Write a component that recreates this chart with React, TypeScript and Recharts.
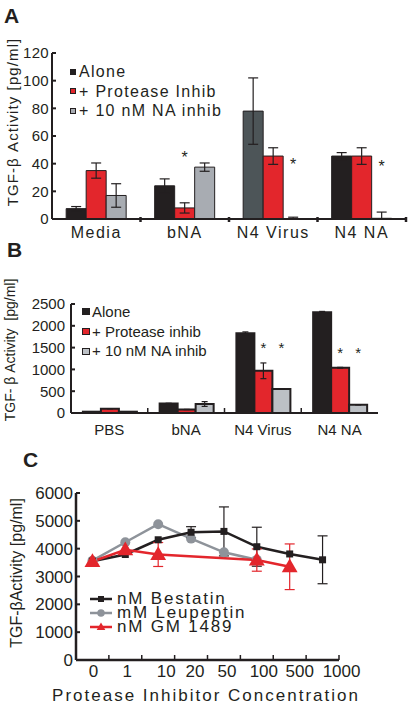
import React from 'react';
import { BarChart, Bar, LineChart, Line, XAxis, YAxis, ErrorBar, Cell, LabelList, Legend } from 'recharts';

const FONT = '"Liberation Sans", Arial, Helvetica, sans-serif';
const INK = '#231f20';
const RED = '#e3262c';
const GRAY_A = '#a8acb2';
const GRAY_B = '#bcc0c5';
const DARK = '#4d5558';
const LINE_GRAY = '#8e939a';

// ---- panel A ----
const catsA = ['Media', 'bNA', 'N4 Virus', 'N4 NA'];
const aloneA = [7.5, 24, 78, 45.5];
const aloneErrA = [1.5, 5, 24, 2.5];
const proteaseA = [35, 8, 45.5, 45.5];
const proteaseErrA = [5.5, 3.7, 6, 6];
const naInhibA = [17, 37.5, 0.3, 0.5];
const naInhibErrA = [8.5, 3, 1, 4.5];
const starProteaseA = [null, 40.7, null, null];
const starNaA = [null, null, 35.7, 34.3];
const ticksA = [0, 20, 40, 60, 80, 100, 120];
const aloneFillA = [INK, INK, DARK, INK];

// ---- panel B ----
const catsB = ['PBS', 'bNA', 'N4 Virus', 'N4 NA'];
const aloneB = [30, 220, 1830, 2310];
const aloneErrB = [0, 0, 30, 20];
const proteaseB = [100, 80, 968, 1037];
const proteaseErrB = [0, 0, 180, 10];
const naInhibB = [30, 206, 549, 190];
const naInhibErrB = [0, 55, 0, 0];
const starProteaseB = [null, null, 1380, 1265];
const starNaB = [null, null, 1380, 1265];
const ticksB = [0, 500, 1000, 1500, 2000, 2500];

// ---- panel C ----
const concLabels = ['0', '1', '10', '20', '50', '100', '500', '1000'];
const bestatin = [3550, 3790, 4320, 4590, 4620, 4070, 3810, 3600];
const bestatinErr = [0, 0, 0, 200, 880, 700, 0, 860];
const leupeptin = [3570, 4230, 4880, 4360, 3870, 3600, null, null];
const gm1489 = [3540, 3960, 3790, null, null, 3590, 3350, null];
const gm1489Err = [0, 0, 430, 0, 0, 400, 820, 0];
const ticksC = [0, 1000, 2000, 3000, 4000, 5000, 6000];
// the concentration labels drift to the right of their points in the original
const concLabelNudge = [1, 2, 8, 4, 3, 7, 10, 19];

const clipErr = (v: number, e: number) => [Math.min(v, e), e];

function barRows(cats: string[], alone: number[], aloneErr: number[], prot: number[], protErr: number[],
  na: number[], naErr: number[], starP: (number | null)[], starN: (number | null)[]) {
  return cats.map((cat, i) => ({
    cat,
    alone: alone[i], aloneErr: clipErr(alone[i], aloneErr[i]),
    protease: prot[i], proteaseErr: clipErr(prot[i], protErr[i]),
    na: na[i], naErr: clipErr(na[i], naErr[i]),
    padP: starP[i] == null ? 0 : (starP[i] as number) - prot[i],
    padN: starN[i] == null ? 0 : (starN[i] as number) - na[i],
    starP: starP[i] == null ? '' : '*',
    starN: starN[i] == null ? '' : '*',
  }));
}

const rowsA = barRows(catsA, aloneA, aloneErrA, proteaseA, proteaseErrA, naInhibA, naInhibErrA, starProteaseA, starNaA);
const rowsB = barRows(catsB, aloneB, aloneErrB, proteaseB, proteaseErrB, naInhibB, naInhibErrB, starProteaseB, starNaB);
const rowsC = concLabels.map((c, i) => ({
  i, bestatin: bestatin[i], bestatinErr: bestatinErr[i], leupeptin: leupeptin[i],
  gm: gm1489[i], gmErr: gm1489Err[i],
}));

// layout
const W = 411;
const A_LEFT = 52, A_RIGHT = 5;
const B_LEFT = 71, B_RIGHT = 33;
const C_LEFT = 76, C_RIGHT = 72;
const bandA = (W - A_LEFT - A_RIGHT) / catsA.length;
const bandB = (W - B_LEFT - B_RIGHT) / catsB.length;
const stepC = (W - C_LEFT - C_RIGHT) / concLabels.length;

function ValTick(props: any) {
  const { x, y, payload, gap, fontSize, spacing } = props;
  const ax = x + gap;
  return (
    <g>
      <line x1={ax} x2={ax + 4} y1={y} y2={y} stroke={INK} strokeWidth={2} />
      <text x={x} y={y} dy="0.36em" textAnchor="end" fontSize={fontSize} letterSpacing={spacing}
        fontFamily={FONT} fill={INK}>{payload.value}</text>
    </g>
  );
}

function CatTick(props: any) {
  const { x, y, payload, index, band, fontSize, spacing, dy, up, lastMark, labels, nudge } = props;
  const bx = x + band / 2;
  const n = labels ? labels.length : 4;
  const showMark = lastMark || index < n - 1;
  const text = labels ? labels[payload.value] : payload.value;
  const dx = nudge ? nudge[index] ?? 0 : 0;
  return (
    <g>
      <text x={x + dx} y={y + dy} textAnchor="middle" fontSize={fontSize} letterSpacing={spacing}
        fontFamily={FONT} fill={INK}>{text}</text>
      {showMark && (
        <line x1={bx} x2={bx} y1={up ? y - 5 : y - 2} y2={up ? y : y + 3} stroke={INK} strokeWidth={up ? 1.5 : 2.5} />
      )}
    </g>
  );
}

const barKeys = ['alone', 'protease', 'na'];

function BarLegend(props: any) {
  const { payload, swatchW, swatchH, fontSize, spacing, rowH, gap } = props;
  const items = (payload ?? []).filter((e: any) => barKeys.includes(e.dataKey))
    .sort((a: any, b: any) => barKeys.indexOf(a.dataKey) - barKeys.indexOf(b.dataKey));
  return (
    <div style={{ fontFamily: FONT, fontSize, letterSpacing: spacing, color: INK }}>
      {items.map((e: any, i: number) => (
        <div key={e.dataKey} style={{ display: 'flex', alignItems: 'center', height: rowH, whiteSpace: 'pre' }}>
          <span style={{
            display: 'inline-block', width: swatchW, height: swatchH, background: e.color, boxSizing: 'border-box',
            border: i === 0 ? 'none' : `1.5px solid ${INK}`, marginRight: gap, flex: 'none',
          }} />
          <div style={{ lineHeight: `${rowH}px`, height: rowH }}>{e.value}</div>
        </div>
      ))}
    </div>
  );
}

const markerOf: Record<string, string> = { bestatin: 'square', leupeptin: 'circle', gm: 'triangle' };
const lineKeys = ['bestatin', 'leupeptin', 'gm'];

function Marker({ kind, cx, cy, color, s }: any) {
  if (kind === 'square') return <rect x={cx - s / 2} y={cy - s / 2} width={s} height={s} fill={color} />;
  if (kind === 'circle') return <circle cx={cx} cy={cy} r={s * 0.62} fill={color} />;
  return <polygon points={`${cx},${cy - s * 0.75} ${cx - s * 0.72},${cy + s * 0.5} ${cx + s * 0.72},${cy + s * 0.5}`} fill={color} />;
}

function LineLegend(props: any) {
  const items = (props.payload ?? []).filter((e: any) => lineKeys.includes(e.dataKey))
    .sort((a: any, b: any) => lineKeys.indexOf(a.dataKey) - lineKeys.indexOf(b.dataKey));
  return (
    <div style={{ fontFamily: FONT, fontSize: 17, letterSpacing: 1.8, color: INK }}>
      {items.map((e: any) => (
        <div key={e.dataKey} style={{ display: 'flex', alignItems: 'center', height: 14, whiteSpace: 'pre' }}>
          <svg width={24} height={14} style={{ marginRight: 3, flex: 'none' }}>
            <line x1={0} x2={22} y1={7} y2={7} stroke={e.color} strokeWidth={2.5} />
            <Marker kind={markerOf[e.dataKey]} cx={11} cy={7} color={e.color} s={6} />
          </svg>
          <div style={{ lineHeight: '14px', height: 14 }}>{e.value}</div>
        </div>
      ))}
    </div>
  );
}

const dotOf = (kind: string, color: string, s: number) => (p: any) => {
  if (p.cx == null || p.cy == null || p.value == null) return <g key={`d-${kind}-${p.index}`} />;
  return <g key={`d-${kind}-${p.index}`}><Marker kind={kind} cx={p.cx} cy={p.cy} color={color} s={s} /></g>;
};

const starLabel = (fontSize: number) => ({ position: 'top' as const, offset: 0, fill: INK, fontSize, fontFamily: FONT });

function Title({ text, left, top }: any) {
  return <div style={{ position: 'absolute', left, top, fontFamily: FONT, fontWeight: 'bold', fontSize: 21, color: INK }}>{text}</div>;
}

function AxisTitle({ text, cx, cy, fontSize, spacing = 0, rotate = true }: any) {
  return (
    <div style={{
      position: 'absolute', left: cx, top: cy, fontFamily: FONT, fontSize, letterSpacing: spacing, color: INK,
      whiteSpace: 'pre', lineHeight: 1, transform: `translate(-50%, -50%)${rotate ? ' rotate(-90deg)' : ''}`,
    }}>{text}</div>
  );
}

export default function App() {
  return (
    <div style={{ position: 'absolute', left: 0, top: 0, width: W, height: 706, background: '#fff', overflow: 'hidden' }}>
      <Title text="A" left={4} top={4} />
      <Title text="B" left={7} top={238} />
      <Title text="C" left={23} top={448} />

      <AxisTitle text="TGF-β Activity [pg/ml]" cx={12} cy={122} fontSize={15} spacing={1.1} />
      <AxisTitle text="TGF- β Activity  [pg/ml]" cx={10} cy={350} fontSize={14} />
      <AxisTitle text="TGF-βActivity [pg/ml]" cx={17} cy={573} fontSize={16} />
      <AxisTitle text="Protease Inhibitor Concentration" cx={206} cy={695} fontSize={17} spacing={2} rotate={false} />

      <div style={{ position: 'absolute', left: 0, top: 0 }}>
        <BarChart width={W} height={245} data={rowsA} margin={{ top: 53, right: A_RIGHT, left: 0, bottom: 0 }}
          barCategoryGap="16%" barGap={0}>
          <XAxis dataKey="cat" height={26} interval={0} axisLine={{ stroke: INK, strokeWidth: 2 }} tickLine={false}
            tickSize={0} tickMargin={0}
            tick={(p: any) => <CatTick {...p} band={bandA} fontSize={16} spacing={1.5} dy={19} lastMark />} />
          <YAxis width={A_LEFT} domain={[0, 120]} ticks={ticksA} interval={0} axisLine={{ stroke: INK, strokeWidth: 2 }}
            tickLine={false} tickSize={0} tickMargin={3}
            tick={(p: any) => <ValTick {...p} gap={3} fontSize={15} spacing={0.3} />} />
          <Legend layout="vertical" verticalAlign="middle" align="center"
            wrapperStyle={{ top: 62, left: 70, width: 'auto' }}
            content={(p: any) => <BarLegend {...p} swatchW={6} swatchH={6} fontSize={16} spacing={1.3} rowH={19.5} gap={3} />} />
          <Bar dataKey="alone" name="Alone" stackId="a" fill={INK} stroke={INK} strokeWidth={1} isAnimationActive={false}>
            {rowsA.map((r, i) => <Cell key={r.cat} fill={aloneFillA[i]} />)}
            <ErrorBar dataKey="aloneErr" direction="y" width={5} stroke={INK} strokeWidth={1.2} />
          </Bar>
          <Bar dataKey="protease" name="+ Protease Inhib" stackId="p" fill={RED} stroke={INK} strokeWidth={1} isAnimationActive={false}>
            <ErrorBar dataKey="proteaseErr" direction="y" width={5} stroke={INK} strokeWidth={1.2} />
          </Bar>
          <Bar dataKey="na" name="+ 10 nM NA inhib" stackId="n" fill={GRAY_A} stroke={INK} strokeWidth={1} isAnimationActive={false}>
            <ErrorBar dataKey="naErr" direction="y" width={5} stroke={INK} strokeWidth={1.2} />
          </Bar>
          <Bar dataKey="padP" stackId="p" fill="none" legendType="none" isAnimationActive={false}>
            <LabelList dataKey="starP" {...starLabel(16)} />
          </Bar>
          <Bar dataKey="padN" stackId="n" fill="none" legendType="none" isAnimationActive={false}>
            <LabelList dataKey="starN" {...starLabel(16)} />
          </Bar>
        </BarChart>
      </div>

      <div style={{ position: 'absolute', left: 0, top: 270 }}>
        <BarChart width={W} height={175} data={rowsB} margin={{ top: 34, right: B_RIGHT, left: 0, bottom: 0 }}
          barCategoryGap="15.5%" barGap={0}>
          <XAxis dataKey="cat" height={32} interval={0} axisLine={{ stroke: INK, strokeWidth: 2 }} tickLine={false}
            tickSize={0} tickMargin={0}
            tick={(p: any) => <CatTick {...p} band={bandB} fontSize={15} spacing={0} dy={22} up />} />
          <YAxis width={B_LEFT} domain={[0, 2500]} ticks={ticksB} interval={0} axisLine={{ stroke: INK, strokeWidth: 2 }}
            tickLine={false} tickSize={0} tickMargin={6}
            tick={(p: any) => <ValTick {...p} gap={6} fontSize={15} spacing={0} />} />
          <Legend layout="vertical" verticalAlign="middle" align="center"
            wrapperStyle={{ top: 32, left: 82, width: 'auto' }}
            content={(p: any) => <BarLegend {...p} swatchW={8} swatchH={7} fontSize={15} spacing={0} rowH={19.7} gap={2} />} />
          <Bar dataKey="alone" name="Alone" stackId="a" fill={INK} stroke={INK} strokeWidth={2} isAnimationActive={false}>
            <ErrorBar dataKey="aloneErr" direction="y" width={3} stroke={INK} strokeWidth={1.2} />
          </Bar>
          <Bar dataKey="protease" name="+ Protease inhib" stackId="p" fill={RED} stroke={INK} strokeWidth={2} isAnimationActive={false}>
            <ErrorBar dataKey="proteaseErr" direction="y" width={3} stroke={INK} strokeWidth={1.2} />
          </Bar>
          <Bar dataKey="na" name="+ 10 nM NA inhib" stackId="n" fill={GRAY_B} stroke={INK} strokeWidth={2} isAnimationActive={false}>
            <ErrorBar dataKey="naErr" direction="y" width={3} stroke={INK} strokeWidth={1.2} />
          </Bar>
          <Bar dataKey="padP" stackId="p" fill="none" legendType="none" isAnimationActive={false}>
            <LabelList dataKey="starP" {...starLabel(15)} />
          </Bar>
          <Bar dataKey="padN" stackId="n" fill="none" legendType="none" isAnimationActive={false}>
            <LabelList dataKey="starN" {...starLabel(15)} />
          </Bar>
        </BarChart>
      </div>

      <div style={{ position: 'absolute', left: 0, top: 470 }}>
        <LineChart width={W} height={236} data={rowsC} margin={{ top: 23, right: C_RIGHT, left: 0, bottom: 0 }}>
          <XAxis dataKey="i" type="number" domain={[-0.5, 7.5]} ticks={concLabels.map((_, i) => i)} interval={0}
            height={46} axisLine={{ stroke: INK, strokeWidth: 2.5 }} tickLine={false} tickSize={0} tickMargin={0}
            tick={(p: any) => <CatTick {...p} band={stepC} labels={concLabels} nudge={concLabelNudge}
              fontSize={17} spacing={0} dy={17} up lastMark />} />
          <YAxis width={C_LEFT} domain={[0, 6000]} ticks={ticksC} interval={0} axisLine={{ stroke: INK, strokeWidth: 2.5 }}
            tickLine={false} tickSize={0} tickMargin={3}
            tick={(p: any) => <ValTick {...p} gap={3} fontSize={17} spacing={0} />} />
          <Legend layout="vertical" verticalAlign="middle" align="center"
            wrapperStyle={{ top: 122, left: 90, width: 'auto' }} content={(p: any) => <LineLegend {...p} />} />
          <Line dataKey="leupeptin" name="mM Leupeptin" stroke={LINE_GRAY} strokeWidth={2.5}
            dot={dotOf('circle', LINE_GRAY, 8)} activeDot={false} isAnimationActive={false} />
          <Line dataKey="bestatin" name="nM Bestatin" stroke={INK} strokeWidth={2.5}
            dot={dotOf('square', INK, 7)} activeDot={false} isAnimationActive={false}>
            <ErrorBar dataKey="bestatinErr" direction="y" width={5} stroke={INK} strokeWidth={1.2} />
          </Line>
          <Line dataKey="gm" name="nM GM 1489" stroke={RED} strokeWidth={2.5} connectNulls
            dot={dotOf('triangle', RED, 11)} activeDot={false} isAnimationActive={false}>
            <ErrorBar dataKey="gmErr" direction="y" width={5} stroke={RED} strokeWidth={1.2} />
          </Line>
        </LineChart>
      </div>
    </div>
  );
}
